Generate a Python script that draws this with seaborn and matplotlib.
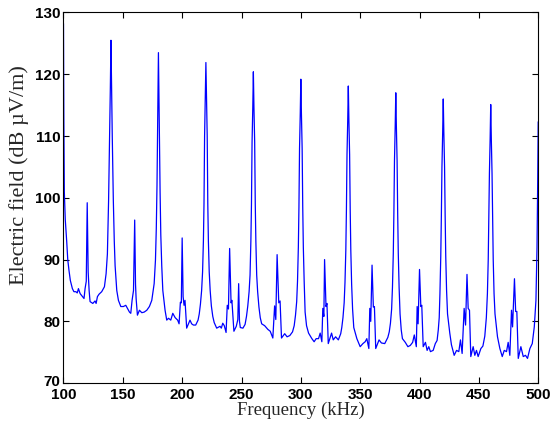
import pandas as pd
import matplotlib
matplotlib.use("Agg")
import matplotlib.pyplot as plt
import matplotlib.transforms as mtransforms
import seaborn as sns

# Spectrum (frequency in kHz, field in dB uV/m)
freq_khz = [
    100.0, 100.3, 100.7, 101.5, 102.7, 103.6, 104.6, 105.8, 107.5, 108.8,
    110.5, 111.6, 112.6, 114.0, 116.0, 117.3, 118.2, 119.2, 120.0, 120.8,
    121.6, 122.4, 124.7, 126.6, 127.5, 128.6, 130.0, 132.2, 134.5, 135.9,
    137.0, 138.0, 138.9, 139.5, 140.0, 140.5, 141.1, 142.0, 142.8, 143.5,
    144.9, 146.3, 148.3, 150.5, 152.5, 153.9, 155.6, 156.7, 157.8, 159.0,
    160.0, 160.7, 161.2, 162.3, 164.0, 166.0, 168.0, 170.2, 172.4, 174.4,
    176.4, 177.5, 178.2, 178.8, 179.3, 179.6, 180.0, 180.4, 180.8, 181.4,
    182.0, 182.8, 183.7, 185.6, 187.0, 188.5, 190.4, 192.1, 194.1, 196.2,
    197.4, 198.5, 199.3, 200.0, 200.8, 201.6, 202.4, 203.8, 206.6, 208.0,
    209.5, 211.4, 213.4, 214.4, 215.4, 216.4, 217.2, 217.9, 218.4, 218.9,
    219.5, 220.0, 220.5, 221.1, 221.6, 222.1, 222.8, 223.6, 224.6, 225.8,
    227.0, 229.1, 231.9, 233.0, 234.2, 235.5, 237.0, 238.0, 239.0, 240.0,
    241.2, 241.9, 243.6, 245.6, 246.9, 247.6, 248.3, 249.0, 251.2, 253.0,
    254.2, 255.3, 256.4, 257.2, 257.9, 258.4, 258.9, 259.5, 260.0, 260.5,
    261.1, 261.6, 262.1, 262.8, 263.6, 264.7, 265.8, 267.0, 269.5, 272.2,
    274.2, 276.4, 277.9, 278.9, 280.0, 281.4, 282.5, 283.7, 286.4, 288.4,
    290.7, 293.0, 294.4, 295.5, 296.5, 297.2, 297.9, 298.4, 298.9, 299.5,
    300.0, 300.5, 301.1, 301.6, 302.1, 302.8, 303.6, 304.8, 306.5, 309.3,
    311.2, 312.9, 314.9, 316.3, 317.7, 318.5, 319.4, 320.0, 321.2, 322.0,
    323.1, 325.9, 327.3, 329.3, 331.6, 333.6, 334.5, 335.5, 336.5, 337.2,
    337.9, 338.4, 338.9, 339.5, 340.0, 340.5, 341.1, 341.6, 342.1, 342.8,
    343.6, 344.6, 347.2, 350.0, 352.3, 354.2, 355.6, 357.3, 358.1, 358.9,
    360.0, 361.1, 362.0, 363.1, 365.9, 367.9, 370.7, 373.3, 374.5, 375.5,
    376.5, 377.2, 377.9, 378.4, 378.9, 379.5, 380.0, 380.5, 381.1, 381.6,
    382.1, 382.8, 383.6, 384.6, 385.6, 388.0, 390.2, 392.2, 394.2, 395.6,
    397.3, 398.0, 398.8, 400.0, 401.1, 401.9, 403.1, 405.0, 406.4, 407.8,
    409.2, 411.5, 413.3, 414.8, 415.8, 416.6, 417.2, 417.9, 418.4, 418.9,
    419.5, 420.0, 420.5, 421.1, 421.6, 422.1, 422.8, 423.6, 425.5, 426.9,
    429.2, 431.2, 433.1, 434.5, 435.9, 437.6, 438.8, 440.0, 441.0, 442.1,
    443.2, 445.2, 446.6, 448.0, 449.4, 451.7, 453.4, 455.0, 456.3, 457.2,
    457.9, 458.4, 458.9, 459.5, 460.0, 460.5, 461.1, 461.6, 462.1, 462.8,
    463.6, 465.7, 467.7, 469.7, 471.4, 473.3, 474.7, 476.1, 477.5, 478.4,
    480.0, 481.0, 482.0, 483.2, 485.4, 487.4, 489.3, 491.0, 493.0, 495.0,
    496.7, 498.1, 499.0, 499.6, 500.0,
]
field_db = [
    128.2, 113.0, 101.0, 96.5, 93.0, 90.0, 88.3, 86.6, 85.3, 84.8,
    84.8, 84.6, 85.3, 84.5, 84.0, 83.7, 85.3, 86.5, 99.2, 88.0,
    85.0, 83.2, 82.9, 83.3, 82.9, 84.0, 84.4, 84.8, 85.6, 87.7,
    90.9, 99.5, 110.0, 118.0, 125.5, 118.0, 110.0, 99.6, 93.0, 89.0,
    85.0, 83.4, 82.4, 82.4, 82.6, 82.1, 81.5, 81.3, 83.4, 85.0,
    96.4, 86.0, 83.7, 81.0, 81.8, 81.4, 81.5, 81.8, 82.4, 83.4,
    86.1, 89.9, 95.0, 102.0, 111.0, 117.0, 123.5, 117.0, 110.0, 101.0,
    94.0, 89.0, 85.0, 81.8, 80.2, 80.5, 80.2, 81.3, 80.6, 80.2,
    79.6, 83.1, 83.0, 93.5, 84.0, 82.6, 83.4, 78.9, 80.2, 79.6,
    79.4, 79.4, 80.2, 81.2, 82.8, 85.0, 88.0, 93.0, 99.0, 110.0,
    116.5, 121.9, 116.5, 110.0, 99.0, 93.0, 88.0, 85.0, 82.5, 80.8,
    79.8, 78.9, 79.2, 78.9, 79.7, 79.3, 78.2, 82.6, 82.0, 91.8,
    83.0, 83.4, 78.4, 79.2, 80.3, 86.1, 80.0, 79.0, 78.9, 79.5,
    80.8, 82.5, 84.8, 87.5, 93.0, 99.0, 109.0, 114.5, 120.4, 114.5,
    109.0, 99.0, 93.0, 87.5, 84.8, 82.3, 80.6, 79.6, 79.3, 78.7,
    78.4, 77.3, 82.5, 80.3, 90.8, 83.0, 83.3, 77.3, 78.0, 77.5,
    77.7, 78.3, 79.3, 81.0, 83.2, 86.5, 92.0, 98.5, 108.0, 113.5,
    119.2, 113.5, 108.0, 98.5, 92.0, 86.5, 81.5, 79.3, 78.1, 77.2,
    76.7, 77.2, 77.2, 78.1, 76.7, 82.1, 80.8, 90.0, 82.4, 82.9,
    76.4, 78.1, 77.0, 77.5, 77.0, 78.0, 79.0, 80.6, 83.0, 86.3,
    91.5, 98.0, 107.0, 112.5, 118.1, 112.5, 107.0, 98.0, 91.5, 86.0,
    82.0, 79.0, 77.2, 75.9, 76.4, 76.7, 77.2, 75.6, 82.1, 80.0,
    89.1, 82.3, 82.4, 75.6, 77.0, 76.5, 76.4, 77.4, 78.3, 79.7,
    82.0, 85.5, 91.0, 97.5, 106.0, 111.5, 117.0, 111.5, 106.0, 97.5,
    91.0, 85.5, 81.2, 78.6, 77.2, 76.6, 75.9, 76.1, 76.6, 77.8,
    75.9, 82.4, 79.6, 88.4, 82.4, 82.6, 75.9, 76.6, 75.3, 75.9,
    75.1, 75.3, 76.4, 76.9, 78.6, 80.6, 84.5, 90.5, 97.0, 105.0,
    110.5, 116.0, 110.5, 105.0, 97.0, 90.5, 85.0, 81.2, 78.1, 76.2,
    74.5, 75.3, 75.1, 77.0, 74.8, 82.1, 79.4, 87.6, 82.1, 81.8,
    74.3, 75.9, 74.5, 75.3, 74.3, 75.6, 76.0, 77.6, 80.6, 84.5,
    90.0, 96.5, 104.0, 109.5, 115.1, 109.5, 104.0, 96.5, 90.0, 84.5,
    81.2, 77.5, 75.6, 74.3, 75.3, 75.1, 76.6, 74.5, 81.8, 79.1,
    86.9, 81.6, 81.6, 74.0, 75.9, 74.3, 74.5, 74.0, 75.6, 76.4,
    79.1, 83.4, 92.0, 103.0, 112.3,
]

x_ticks = [100, 150, 200, 250, 300, 350, 400, 450, 500]
y_ticks = [70, 80, 90, 100, 110, 120, 130]

df = pd.DataFrame({"freq": freq_khz, "field": field_db})

sns.set_style("ticks")

fig = plt.figure(figsize=(5.52, 4.30), dpi=100)
ax = fig.add_axes([0.115, 0.109, 0.86, 0.862])

sns.lineplot(data=df, x="freq", y="field", color="#0000ff", linewidth=0.9, ax=ax)

ax.set_xlim(100, 500)
ax.set_ylim(70, 130)
ax.set_xticks(x_ticks)
ax.set_yticks(y_ticks)

# boxed axes with inward ticks on every side
for side in ["top", "right", "bottom", "left"]:
    ax.spines[side].set_visible(True)
    ax.spines[side].set_color("black")
    ax.spines[side].set_linewidth(0.8)
ax.tick_params(direction="in", length=4, width=0.8, top=True, right=True,
               colors="black", pad=2)
ax.tick_params(axis="x", pad=3.5)

for lab in ax.get_xticklabels() + ax.get_yticklabels():
    lab.set_family("Liberation Sans")
    lab.set_fontweight("bold")
    lab.set_fontsize(11)

# lift the "70" a touch so it does not run into the "100" below it
lab70 = ax.get_yticklabels()[0]
lab70.set_transform(lab70.get_transform() +
                    mtransforms.ScaledTranslation(0, 3 / 100, fig.dpi_scale_trans))

ax.set_xlabel("Frequency (kHz)", family="Liberation Serif", fontsize=13.5, labelpad=0)
ax.set_ylabel("Electric field (dB \u00b5V/m)", family="Liberation Serif", fontsize=16)
ax.yaxis.set_label_coords(-0.073, 0.56)

fig.savefig("out.png", dpi=100)
